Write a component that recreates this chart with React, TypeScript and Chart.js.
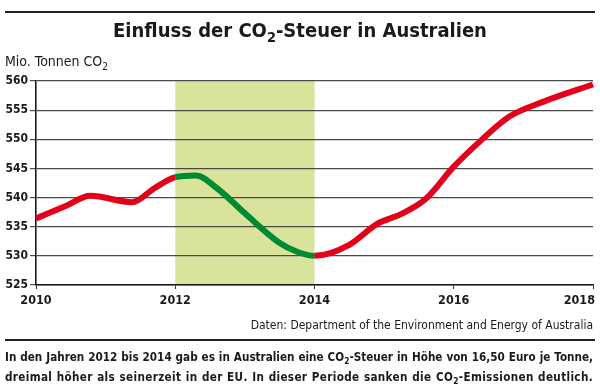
import React, { useEffect, useRef, useState } from "react";
import { Chart, registerables } from "chart.js";

Chart.register(...registerables);

// ---- data ----
const years = [
  2010.0, 2010.45, 2010.78, 2011.38, 2011.7, 2012.0, 2012.3, 2012.6, 2013.0, 2013.5,
  2013.75, 2014.0, 2014.5, 2014.9, 2015.25, 2015.6, 2016.0, 2016.4, 2016.8, 2017.3, 2018.0,
];
const emissions = [
  536.4, 538.7, 540.3, 539.2, 541.6, 543.5, 543.8, 541.6, 537.3, 532.2,
  530.7, 530.0, 531.9, 535.5, 537.2, 539.8, 545.3, 549.9, 553.9, 556.5, 559.4,
];
const xMin = 2010;
const xMax = 2018;
const xStep = 2;
const yMin = 525;
const yMax = 560;
const yStep = 5;
const taxStart = 2012;
const taxEnd = 2014;

const footLine1 = ["In den Jahren 2012 bis 2014 gab es in Australien eine CO", "-Steuer in Höhe von 16,50 Euro je Tonne,"];
const footLine2 = ["dreimal höher als seinerzeit in der EU. In dieser Periode sanken die CO", "-Emissionen deutlich."];

const RED = "#e2001a";
const GREEN = "#008a32";
const BAND = "#d9e39c";
const INK = "#1a1a1a";
const FONT = '"DejaVu Sans Condensed", "Liberation Sans Narrow", sans-serif';
const FOOT_W = 588;

const Sub = () => (
  <sub style={{ fontSize: "0.72em", verticalAlign: "-0.38em", lineHeight: 0 }}>2</sub>
);

export default function App() {
  const canvasRef = useRef<HTMLCanvasElement | null>(null);
  const [foot, setFoot] = useState({ size: 12, ls1: 0, ls2: 0 });

  useEffect(() => {
    document.body.style.margin = "0";
    const m = document.createElement("canvas").getContext("2d");
    if (m) {
      m.font = `bold 12px ${FONT}`;
      const text1 = footLine1.join("2");
      const text2 = footLine2.join("2");
      const w1 = m.measureText(text1).width;
      const w2 = m.measureText(text2).width;
      const size = Math.min(13.5, (12 * (FOOT_W - 4)) / Math.max(w1, w2));
      const k = size / 12;
      const ls1 = Math.max(0, (FOOT_W - 4 - w1 * k) / text1.length);
      const ls2 = Math.max(0, (FOOT_W - 4 - w2 * k) / text2.length);
      setFoot({ size, ls1, ls2 });
    }
  }, []);

  useEffect(() => {
    const canvas = canvasRef.current;
    if (!canvas) return;

    const bandPlugin = {
      id: "taxBand",
      beforeDraw(chart: any) {
        const { ctx, chartArea, scales } = chart;
        const x0 = scales.x.getPixelForValue(taxStart);
        const x1 = scales.x.getPixelForValue(taxEnd);
        ctx.save();
        ctx.fillStyle = BAND;
        ctx.fillRect(x0, chartArea.top, x1 - x0, chartArea.bottom - chartArea.top);
        ctx.restore();
      },
      afterDraw(chart: any) {
        const { ctx, scales, chartArea } = chart;
        const sx = scales.x;
        ctx.save();
        ctx.fillStyle = INK;
        ctx.font = `bold 12.5px ${FONT}`;
        ctx.textBaseline = "middle";
        const n = sx.ticks.length;
        sx.ticks.forEach((t: any, i: number) => {
          const px = sx.getPixelForValue(t.value);
          ctx.textAlign = i === n - 1 ? "right" : "center";
          ctx.fillText(String(t.value), i === n - 1 ? px + 2 : px, chartArea.bottom + 16);
        });
        ctx.restore();
      },
    };

    const chart = new Chart(canvas, {
      type: "line",
      data: {
        datasets: [
          {
            data: years.map((x, i) => ({ x, y: emissions[i] })),
            borderColor: RED,
            borderWidth: 6,
            pointRadius: 0,
            fill: false,
            cubicInterpolationMode: "monotone",
            borderJoinStyle: "round",
            borderCapStyle: "butt",
            clip: false as any,
            segment: {
              borderColor: (c: any) =>
                c.p0.parsed.x >= taxStart - 1e-6 && c.p1.parsed.x <= taxEnd + 1e-6 ? GREEN : RED,
            },
          } as any,
        ],
      },
      options: {
        animation: false,
        responsive: false,
        devicePixelRatio: 1,
        layout: { padding: { left: 0, top: 81, right: 7, bottom: 82 } },
        plugins: { legend: { display: false }, tooltip: { enabled: false }, title: { display: false } },
        scales: {
          x: {
            type: "linear",
            min: xMin,
            max: xMax,
            ticks: { stepSize: xStep, display: false },
            grid: { drawOnChartArea: false, drawTicks: true, tickLength: 4, color: "#333", lineWidth: 1 },
            border: { display: true, color: INK, width: 1.6 },
            afterFit: (s: any) => {
              s.height = 20;
              s.paddingLeft = 0;
              s.paddingRight = 0;
            },
          },
          y: {
            min: yMin,
            max: yMax,
            ticks: {
              stepSize: yStep,
              padding: 2,
              color: INK,
              font: { family: FONT, size: 12, weight: "bold" },
            },
            grid: { color: "#4a4a4a", lineWidth: 1.2, drawTicks: true, tickLength: 6 },
            border: { display: true, color: INK, width: 1.6 },
            afterFit: (s: any) => {
              s.width = 36;
              s.paddingTop = 0;
              s.paddingBottom = 0;
            },
          },
        },
      },
      plugins: [bandPlugin],
    });
    return () => chart.destroy();
  }, []);

  const abs: React.CSSProperties = { position: "absolute", whiteSpace: "nowrap" };
  const footStyle: React.CSSProperties = {
    ...abs,
    left: 5,
    width: FOOT_W,
    lineHeight: "20px",
    fontSize: foot.size,
    fontWeight: "bold",
    textAlign: "justify",
    textAlignLast: "justify" as any,
  };

  return (
    <div style={{ position: "relative", width: 600, height: 387, fontFamily: FONT, color: INK, overflow: "hidden", background: "#fff" }}>
      <canvas ref={canvasRef} width={600} height={387} style={{ position: "absolute", left: 0, top: 0 }} />
      <div style={{ ...abs, left: 5, top: 11, width: 590, height: 2, background: "#222" }} />
      <div style={{ ...abs, left: 0, width: 600, top: 17, lineHeight: "26px", fontSize: 20, fontWeight: "bold", textAlign: "center" }}>
        Einfluss der CO<Sub />-Steuer in Australien
      </div>
      <div style={{ ...abs, left: 5, top: 53, lineHeight: "16px", fontSize: 14 }}>
        Mio. Tonnen CO<Sub />
      </div>
      <div style={{ ...abs, right: 7, top: 317, lineHeight: "16px", fontSize: 12 }}>
        Daten: Department of the Environment and Energy of Australia
      </div>
      <div style={{ ...abs, left: 5, top: 339, width: 590, height: 2, background: "#222" }} />
      <div style={{ ...footStyle, top: 347, letterSpacing: foot.ls1 }}>
        {footLine1[0]}<Sub />{footLine1[1]}
      </div>
      <div style={{ ...footStyle, top: 367, letterSpacing: foot.ls2 }}>
        {footLine2[0]}<Sub />{footLine2[1]}
      </div>
    </div>
  );
}
